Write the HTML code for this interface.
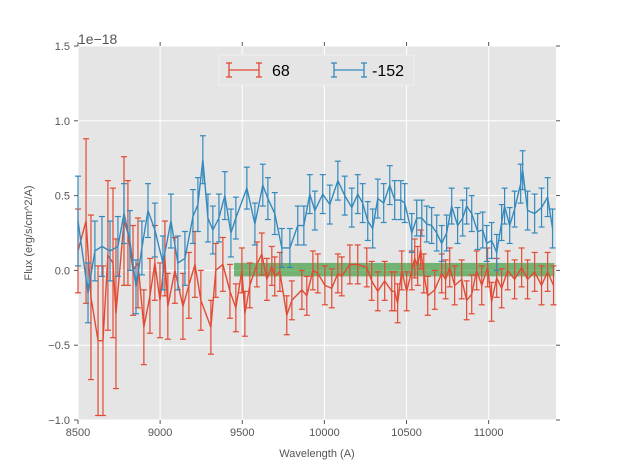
<!DOCTYPE html>
<html><head><meta charset="utf-8"><style>
html,body{margin:0;padding:0;background:#fff;}
svg{display:block;font-family:"Liberation Sans",sans-serif;}
</style></head><body>
<svg id="chart" width="617" height="467" viewBox="0 0 617 467" xmlns="http://www.w3.org/2000/svg">
<rect x="0" y="0" width="617" height="467" fill="#fff"/>
<rect x="78" y="46" width="478" height="374" fill="#e5e5e5"/>
<g id="grid"></g>
<g id="band"></g>
<g id="series"></g>
<g id="axes"></g>
<text x="78" y="44" font-size="14" fill="#555">1e−18</text>
<text x="317" y="457" font-size="11" fill="#555" text-anchor="middle">Wavelength (A)</text>
<text transform="translate(32,233) rotate(-90)" font-size="11" fill="#555" text-anchor="middle">Flux (erg/s/cm^2/A)</text>
<g>
<rect x="219" y="55" width="195" height="30" fill="#e5e5e5" stroke="#f0f0f0" stroke-width="1"/>
<g>
<line x1="229" y1="70" x2="259" y2="70" stroke="#E24A33" stroke-width="1.3"/>
<line x1="229" y1="63" x2="229" y2="77" stroke="#E24A33" stroke-width="1.3"/>
<line x1="259" y1="63" x2="259" y2="77" stroke="#E24A33" stroke-width="1.3"/>
<line x1="226" y1="63" x2="232" y2="63" stroke="#E24A33" stroke-width="1.3"/>
<line x1="226" y1="77" x2="232" y2="77" stroke="#E24A33" stroke-width="1.3"/>
<line x1="256" y1="63" x2="262" y2="63" stroke="#E24A33" stroke-width="1.3"/>
<line x1="256" y1="77" x2="262" y2="77" stroke="#E24A33" stroke-width="1.3"/>
<text x="272" y="76" font-size="16" fill="#000">68</text>
</g>
<g>
<line x1="334" y1="70" x2="364" y2="70" stroke="#348ABD" stroke-width="1.3"/>
<line x1="334" y1="63" x2="334" y2="77" stroke="#348ABD" stroke-width="1.3"/>
<line x1="364" y1="63" x2="364" y2="77" stroke="#348ABD" stroke-width="1.3"/>
<line x1="331" y1="63" x2="337" y2="63" stroke="#348ABD" stroke-width="1.3"/>
<line x1="331" y1="77" x2="337" y2="77" stroke="#348ABD" stroke-width="1.3"/>
<line x1="361" y1="63" x2="367" y2="63" stroke="#348ABD" stroke-width="1.3"/>
<line x1="361" y1="77" x2="367" y2="77" stroke="#348ABD" stroke-width="1.3"/>
<text x="372" y="76" font-size="16" fill="#000">-152</text>
</g>
</g>
</svg>
<script>
const xTicks=[8500,9000,9500,10000,10500,11000];
const yTicks=[-1.0,-0.5,0.0,0.5,1.0,1.5];
const yTickLabels=["−1.0","−0.5","0.0","0.5","1.0","1.5"];
const bandRange=[9450,11400,-0.04,0.05];
const blueW=[8500,8561,8603,8646,8695,8743,8780,8816,8853,8889,8926,8968,9017,9066,9108,9151,9200,9230,9260,9291,9321,9358,9394,9431,9461,9528,9577,9625,9656,9698,9741,9790,9838,9875,9911,9942,9990,10033,10082,10124,10167,10203,10233,10264,10294,10325,10361,10398,10428,10465,10489,10532,10562,10593,10623,10653,10684,10714,10744,10775,10811,10842,10866,10897,10933,10964,10988,11018,11049,11079,11097,11128,11158,11195,11207,11237,11280,11322,11359,11389];
const blueF=[0.33,-0.15,0.13,0.16,0.13,0.16,0.38,0.2,-0.11,0.15,0.4,0.27,0.05,0.33,0.05,0.08,0.36,0.44,0.74,0.35,0.27,0.35,0.5,0.25,0.35,0.55,0.31,0.57,0.48,0.38,0.15,0.15,0.3,0.3,0.51,0.4,0.51,0.44,0.6,0.5,0.42,0.51,0.45,0.33,0.28,0.48,0.45,0.57,0.47,0.47,0.45,0.25,0.35,0.35,0.31,0.3,0.25,0.18,0.25,0.43,0.3,0.35,0.43,0.38,0.26,0.27,0.18,0.2,0.12,0.32,0.43,0.3,0.41,0.58,0.67,0.4,0.38,0.42,0.49,0.28];
const blueE=[0.3,0.2,0.2,0.2,0.2,0.2,0.2,0.2,0.18,0.18,0.18,0.18,0.18,0.18,0.18,0.18,0.18,0.18,0.16,0.16,0.16,0.16,0.16,0.16,0.14,0.14,0.14,0.14,0.14,0.14,0.13,0.13,0.13,0.13,0.13,0.13,0.13,0.13,0.13,0.13,0.13,0.13,0.13,0.13,0.13,0.13,0.13,0.13,0.13,0.13,0.13,0.13,0.12,0.12,0.12,0.12,0.12,0.12,0.12,0.12,0.12,0.12,0.12,0.12,0.12,0.12,0.12,0.12,0.12,0.12,0.12,0.12,0.12,0.13,0.13,0.13,0.13,0.13,0.13,0.13];
const redW=[8500,8549,8579,8622,8652,8682,8713,8731,8780,8804,8835,8865,8901,8938,8968,8999,9029,9047,9090,9139,9175,9212,9248,9309,9339,9382,9425,9461,9498,9516,9546,9589,9619,9650,9680,9698,9729,9771,9802,9863,9893,9930,9960,10003,10045,10082,10106,10155,10203,10258,10288,10325,10367,10410,10428,10446,10471,10501,10532,10550,10568,10586,10605,10629,10672,10714,10738,10763,10793,10836,10866,10897,10927,10958,10994,11018,11049,11079,11116,11158,11201,11237,11280,11322,11359,11395];
const redF=[0.13,0.33,-0.18,-0.47,-0.47,0.1,0.05,-0.29,0.33,0.25,0.0,0.05,-0.38,-0.17,0.05,-0.2,0.08,-0.24,0.0,-0.24,-0.1,0.04,-0.2,-0.38,0.0,0.04,-0.14,-0.25,0.0,-0.29,-0.1,0.04,0.11,-0.06,0.03,-0.04,-0.01,-0.3,-0.2,-0.13,-0.17,0.0,-0.02,-0.1,-0.12,-0.02,-0.04,0.04,0.04,0.02,-0.07,-0.14,-0.07,-0.14,-0.14,-0.22,0.0,-0.14,0.0,0.08,0.03,0.14,-0.02,-0.17,-0.13,-0.02,-0.06,0.02,-0.1,-0.06,-0.2,-0.16,0.0,-0.1,0.02,-0.21,-0.05,-0.12,0.0,-0.06,0.02,-0.06,-0.01,-0.1,-0.01,-0.1];
const redE=[0.28,0.55,0.55,0.5,0.5,0.5,0.5,0.5,0.43,0.35,0.3,0.3,0.25,0.25,0.25,0.25,0.25,0.22,0.22,0.22,0.22,0.22,0.2,0.18,0.18,0.18,0.18,0.16,0.15,0.15,0.15,0.15,0.14,0.14,0.13,0.13,0.13,0.13,0.13,0.13,0.13,0.13,0.13,0.13,0.13,0.13,0.13,0.13,0.13,0.13,0.13,0.13,0.13,0.13,0.13,0.13,0.13,0.13,0.13,0.13,0.13,0.13,0.13,0.13,0.13,0.13,0.13,0.13,0.13,0.13,0.13,0.13,0.13,0.13,0.13,0.13,0.13,0.13,0.13,0.13,0.13,0.13,0.13,0.13,0.13,0.13];
const NS='http://www.w3.org/2000/svg';
const L=78,R=556,T=46,B=420,XMIN=8500,XMAX=11410,YMIN=-1.0,YMAX=1.5;
function sx(v){return L+(v-XMIN)/(XMAX-XMIN)*(R-L);}
function sy(v){return B-(v-YMIN)/(YMAX-YMIN)*(B-T);}
function mk(tag,attrs,parent){const e=document.createElementNS(NS,tag);for(const k in attrs)e.setAttribute(k,attrs[k]);parent.appendChild(e);return e;}
const grid=document.getElementById('grid'),axes=document.getElementById('axes'),band=document.getElementById('band'),series=document.getElementById('series');
xTicks.forEach(t=>{const x=sx(t);
 const g=mk('line',{x1:x,y1:T,x2:x,y2:B,stroke:'#fff','stroke-width':1},grid);
 
 
 mk('line',{x1:x,y1:B,x2:x,y2:B+4,stroke:'#555'},axes);
 mk('line',{x1:x,y1:T,x2:x,y2:T-4,stroke:'#555'},axes);
 const lb=mk('text',{x:x,y:B+16,'font-size':11,fill:'#555','text-anchor':'middle'},axes);
 lb.textContent=t;
 
 
});
yTicks.forEach((t,i)=>{const y=sy(t);
 const g=mk('line',{x1:L,y1:y,x2:R,y2:y,stroke:'#fff','stroke-width':1},grid);
 
 
 mk('line',{x1:L,y1:y,x2:L-4,y2:y,stroke:'#555'},axes);
 mk('line',{x1:R,y1:y,x2:R+4,y2:y,stroke:'#555'},axes);
 const lb=mk('text',{x:L-8,y:y+4,'font-size':11,fill:'#555','text-anchor':'end'},axes);
 lb.textContent=yTickLabels[i];
 
 
});
const br=mk('rect',{x:sx(bandRange[0]),y:sy(bandRange[3]),width:sx(Math.min(bandRange[1],XMAX))-sx(bandRange[0]),height:sy(bandRange[2])-sy(bandRange[3]),fill:'#008000','fill-opacity':0.5},band);


function drawSeries(W,F,E,color,name){
 const g=mk('g',{},series);
 
 
 for(let i=0;i<W.length;i++){
  const x=sx(W[i]),y1=Math.min(B,sy(F[i]-E[i])),y2=sy(F[i]+E[i]);
  mk('line',{x1:x,y1:y1,x2:x,y2:y2,stroke:color,'stroke-width':1.2},g);
  mk('line',{x1:x-3,y1:y2,x2:x+3,y2:y2,stroke:color,'stroke-width':1.2},g);
  if(sy(F[i]-E[i])<=B) mk('line',{x1:x-3,y1:y1,x2:x+3,y2:y1,stroke:color,'stroke-width':1.2},g);
 }
 const p=mk('polyline',{points:W.map((w,i)=>sx(w)+','+sy(F[i])).join(' '),fill:'none',stroke:color,'stroke-width':1.4},g);
 
 
}
drawSeries(redW,redF,redE,'#E24A33','series-68');
drawSeries(blueW,blueF,blueE,'#348ABD','series-minus152');
</script>
</body></html>
